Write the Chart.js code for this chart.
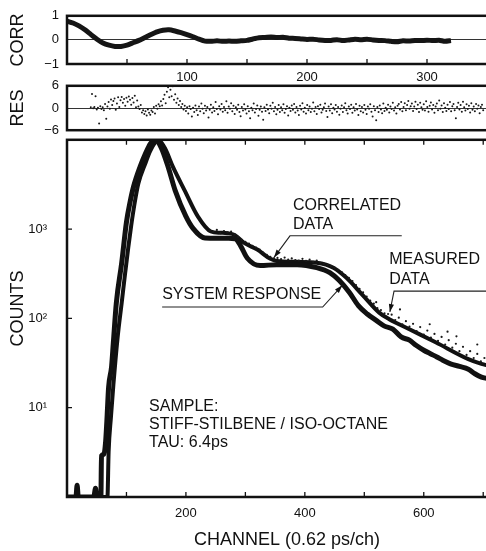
<!DOCTYPE html>
<html>
<head>
<meta charset="utf-8">
<script src="https://cdn.jsdelivr.net/npm/chart.js@4.4.1/dist/chart.umd.min.js"></script>
<style>
  body { margin:0; background:#fff; overflow:hidden; width:486px; height:551px; position:relative; }
  canvas { position:absolute; left:0; }
  #corrChart { top:0; }
  #resChart { top:70px; }
  #countChart { top:120px; }
</style>
</head>
<body>
<canvas id="corrChart" width="511" height="90"></canvas>
<canvas id="resChart" width="511" height="76"></canvas>
<canvas id="countChart" width="511" height="431"></canvas>
<script>
// ---- data ----
// correlation of residuals, channel 0..320 every 5
var corrStart = 0, corrStep = 5;
var corrValues = [0.78, 0.7, 0.58, 0.42, 0.22, 0.03, -0.13, -0.22, -0.27, -0.27,
  -0.22, -0.12, -0.02, 0.1, 0.22, 0.33, 0.4, 0.42, 0.37, 0.3,
  0.22, 0.13, 0.03, -0.05, -0.06, -0.04, -0.06, -0.05, -0.06, -0.04,
  -0.02, 0.04, 0.09, 0.1, 0.12, 0.1, 0.11, 0.07, 0.06, 0.04,
  0.02, 0.03, 0.0, -0.02, -0.02, 0.01, -0.03, 0.0, 0.03, 0.01,
  0.03, 0.0, -0.02, -0.03, -0.06, -0.08, -0.04, -0.05, -0.02, -0.03,
  -0.01, -0.03, -0.01, -0.06, -0.03];

// weighted residuals, channel 20..350 every 1
var resStart = 20;
var resValues = [
  0.2, 3.8, -0.1, 0.3, 3.2, -0.4, 0.1, -4.2, 0.5, -0.3,
  0.2, -0.6, 1.1, -2.9, 0.4, 1.6, -0.2, 2.3, 0.8, 1.9,
  2.6, -0.5, 1.2, 2.9, 0.3, 2.1, 3.0, 1.4, 2.4, 0.6,
  2.8, 1.7, 3.1, 2.2, 0.9, 2.7, 1.5, 3.3, 0.2, 2.0,
  0.4, -0.3, 0.8, -1.2, -0.6, -1.6, -0.9, -2.0, -0.4, -1.3,
  -1.8, -0.7, -1.1, 0.3, -1.5, 0.6, -0.2, 1.0, 0.5, 1.8,
  0.7, 2.4, 3.6, 1.3, 4.4, 5.6, 2.9, 4.9, 3.2, 5.9,
  2.2, 3.7, 1.4, 2.6, 0.8, 1.9, 0.3, 1.1, -0.4, 0.6,
  -0.8, 0.2, -1.5, 0.5, -0.3, -2.3, 0.1, -1.1, 0.7, -0.6,
  -1.9, 0.4, -0.9, 1.2, -0.2, -1.4, 0.6, -0.7, 0.3, -2.6,
  -0.5, 0.9, -1.2, 0.2, -0.8, 1.6, -0.3, -1.7, 0.5, -0.4,
  1.1, -1.0, 0.3, -0.6, 1.8, -1.3, 0.4, -0.2, 1.3, -0.9,
  0.6, -1.6, 0.2, -0.5, 0.9, -1.1, -2.2, 0.3, -0.7, 1.0,
  -0.4, -1.5, 0.5, -0.9, -2.8, 0.1, -0.6, 1.2, -1.2, -0.3,
  0.7, -2.1, -0.5, 0.4, -1.0, -3.2, 0.2, -0.8, 0.9, -0.4,
  -1.4, 0.6, -0.2, 1.4, -0.9, 0.3, -1.7, -0.5, 0.8, -1.1,
  0.2, -0.6, 1.0, -1.3, -0.3, 0.5, -2.0, 0.1, -0.8, 0.7,
  -0.5, 1.1, -1.2, 0.3, -0.7, -1.9, 0.6, -0.4, 1.3, -1.0,
  0.1, -1.5, 0.8, -0.6, 0.4, -1.1, -0.2, 1.5, -0.9, 0.3,
  -1.6, 0.5, -0.3, 0.9, -1.2, -0.5, 0.2, 1.2, -0.8, -2.4,
  0.4, -0.7, 1.0, -1.4, 0.1, -0.4, 0.8, -1.0, 0.3, -1.8,
  -0.2, 0.7, -1.1, 0.2, 1.3, -0.6, -1.5, 0.4, -0.3, 0.9,
  -1.3, 0.2, -0.7, 1.1, -0.4, -1.9, 0.6, -0.9, 0.3, -1.2,
  0.8, -0.5, -1.6, 0.4, -0.2, 1.0, -1.0, -2.3, 0.5, -0.6,
  -3.3, 0.3, -1.1, 0.7, -0.4, -1.4, 1.2, -0.8, 0.1, -0.5,
  0.9, -1.2, 0.4, -0.3, 1.4, -0.7, 0.2, -1.5, 0.6, 1.1,
  -0.4, 1.6, -0.9, 0.3, 1.3, -0.6, 0.8, 1.9, -0.2, 0.5,
  1.2, -0.8, 0.4, 1.7, -0.3, 0.9, -1.1, 1.4, 0.2, -0.5,
  1.0, -0.7, 1.8, 0.3, -1.0, 0.6, 1.5, -0.4, 0.8, -1.3,
  0.4, 1.2, -0.6, 2.0, -0.2, 0.7, -1.1, 1.3, 0.1, -0.8,
  0.9, -0.3, 1.6, -0.9, 0.5, 1.1, -0.6, -2.8, 0.3, 1.4,
  -0.4, 0.8, -1.0, 1.7, 0.2, -0.7, 1.0, -0.3, 0.6, -1.2,
  1.3, -0.5, 0.4, -0.9, 1.1, -0.2, 0.7, -1.4, 0.3, 0.9, -0.6];

// system response (instrument function)
var srChannels = [0, 15, 17, 19, 45, 48, 50, 57, 58, 62, 65, 67, 70, 75, 78, 83, 92, 100, 106, 112,
  123, 132, 140, 148, 158, 170, 182, 200, 212, 232, 253, 272, 283, 292, 303, 325, 353, 387, 420, 442,
  458, 475, 490, 505, 520, 534, 548, 562, 576, 587, 600, 612, 622, 632, 645, 660, 675, 686, 697, 710, 725];
var srCounts = [1, 1, 1.35, 1, 1, 1.25, 1, 1, 2.9, 3.0, 4.2, 7, 17, 29, 54, 150, 420, 1200, 2000, 3000,
  5000, 7000, 9000, 10000, 8300, 5000, 2700, 1390, 1020, 795, 790, 790, 780, 650, 475, 390, 400, 400, 370, 325,
  265, 195, 139, 112, 95, 82, 76, 62, 57, 50, 44, 40, 37, 34, 31, 29, 27, 24, 22, 21, 19];

// correlated (convolved) data
var cdChannels = [0, 68, 70, 74, 78, 85, 92, 98, 103, 108, 114, 120, 132, 140, 148, 153, 165, 178, 198, 220,
  242, 258, 270, 282, 298, 320, 342, 353, 387, 420, 448, 470, 498, 525, 542, 575, 620, 675, 697, 725];
var cdCounts = [1, 1, 3.2, 8, 18, 60, 150, 330, 620, 1100, 2000, 3240, 5500, 7500, 9300, 10000, 8000, 5000, 2700, 1390,
  940, 910, 900, 860, 700, 590, 465, 440, 430, 420, 370, 285, 180, 116, 98, 76, 54, 35, 31, 28];

// measured data points (tail, where visible)
var measChannels = [240, 246, 252, 258, 264, 270, 276, 282, 288, 294, 300, 306, 312, 318, 324, 330, 336, 342, 348, 354,
  360, 366, 372, 378, 384, 390, 396, 402, 408, 414, 420, 426, 432, 438, 444, 450, 456, 462, 468, 474,
  480, 486, 492, 498, 504, 510, 516, 522, 528, 534, 540, 546, 552, 558, 564, 570, 576, 582, 588, 594,
  600, 606, 612, 618, 624, 630, 636, 642, 648, 654, 660, 666, 672, 678, 684, 690, 696, 702, 708, 714,
  720, 520, 560, 610, 655, 690, 640];
var measCounts = [960, 930, 980, 900, 950, 920, 940, 870, 820, 760, 720, 690, 650, 620, 590, 545, 515, 490, 470, 475,
  460, 480, 455, 470, 450, 445, 465, 440, 455, 430, 445, 420, 410, 400, 385, 370, 350, 330, 305, 285,
  262, 236, 214, 196, 176, 158, 146, 130, 124, 114, 112, 110, 96, 102, 86, 93, 81, 87, 72, 80,
  66, 73, 61, 67, 56, 62, 51, 57, 47, 52, 43, 48, 39, 43, 36, 40, 33, 36, 31, 33,
  29, 152, 126, 86, 63, 51, 71];

var topTicks = [50, 100, 150, 200, 250, 300, 350];
var mainTicks = [100, 200, 300, 400, 500, 600, 700];
var countTicks = [10, 100, 1000];

Chart.defaults.font.family = '"Liberation Sans", Arial, Helvetica, sans-serif';
Chart.defaults.color = '#111';
Chart.defaults.animation = false;

function pts(xs, ys) { return xs.map(function (x, i) { return {x: x, y: ys[i]}; }); }
function minus(v) { return v < 0 ? '\u2212' + Math.abs(v) : '' + v; }

// border box + inward tick marks
var framePlugin = {
  id: 'frame',
  afterDraw: function (chart, args, opts) {
    var ctx = chart.ctx, a = chart.chartArea, sx = chart.scales.x, sy = chart.scales.y;
    var len = 5;
    ctx.save();
    ctx.strokeStyle = '#111';
    ctx.lineWidth = 1.3;
    ctx.beginPath();
    (opts.xTicks || []).forEach(function (v) {
      var x = sx.getPixelForValue(v);
      if (opts.top) { ctx.moveTo(x, a.top); ctx.lineTo(x, a.top + len); }
      if (opts.bottom) { ctx.moveTo(x, a.bottom); ctx.lineTo(x, a.bottom - len); }
    });
    (opts.yTicks || []).forEach(function (v) {
      var y = sy.getPixelForValue(v);
      ctx.moveTo(a.left, y); ctx.lineTo(a.left + len, y);
    });
    ctx.stroke();
    ctx.lineWidth = 2.5;
    ctx.strokeRect(a.left, a.top, a.right - a.left, a.bottom - a.top);
    ctx.restore();
  }
};

// text labels with leader lines, anchored in data units
var notes = [
  {text: ['CORRELATED', 'DATA'], at: [380, 1810], gap: 19, path: [[563, 841], [375, 841], [348, 480]]},
  {text: ['MEASURED', 'DATA'], at: [542, 456], gap: 20, path: [[720, 202], [550, 202], [543, 118]]},
  {text: ['SYSTEM RESPONSE'], at: [160, 187], gap: 0, path: [[160, 134], [430, 134], [463, 235]]},
  {text: ['SAMPLE:', 'STIFF-STILBENE / ISO-OCTANE', 'TAU: 6.4ps'], at: [138, 10.2], gap: 18, path: []}
];

var notePlugin = {
  id: 'notes',
  afterDraw: function (chart) {
    var ctx = chart.ctx, sx = chart.scales.x, sy = chart.scales.y;
    ctx.save();
    ctx.fillStyle = '#111';
    ctx.strokeStyle = '#222';
    ctx.font = '16px "Liberation Sans", Arial, sans-serif';
    ctx.textAlign = 'left';
    ctx.textBaseline = 'middle';
    notes.forEach(function (n) {
      var x0 = sx.getPixelForValue(n.at[0]), y0 = sy.getPixelForValue(n.at[1]);
      n.text.forEach(function (t, i) { ctx.fillText(t, x0, y0 + i * n.gap); });
      if (!n.path.length) return;
      var p = n.path.map(function (q) { return [sx.getPixelForValue(q[0]), sy.getPixelForValue(q[1])]; });
      ctx.lineWidth = 1.1;
      ctx.beginPath();
      ctx.moveTo(p[0][0], p[0][1]);
      for (var k = 1; k < p.length; k++) ctx.lineTo(p[k][0], p[k][1]);
      ctx.stroke();
      // arrow head
      var tip = p[p.length - 1], prev = p[p.length - 2];
      var ang = Math.atan2(tip[1] - prev[1], tip[0] - prev[0]);
      ctx.beginPath();
      ctx.moveTo(tip[0], tip[1]);
      ctx.lineTo(tip[0] - 8 * Math.cos(ang) + 2.6 * Math.sin(ang), tip[1] - 8 * Math.sin(ang) - 2.6 * Math.cos(ang));
      ctx.lineTo(tip[0] - 8 * Math.cos(ang) - 2.6 * Math.sin(ang), tip[1] - 8 * Math.sin(ang) + 2.6 * Math.cos(ang));
      ctx.closePath();
      ctx.fill();
    });
    ctx.restore();
  }
};

var yTitleFont = {size: 18};
var tickFont = {size: 13};

// ---- CORR panel ----
new Chart('corrChart', {
  type: 'line',
  data: {
    datasets: [{
      data: corrValues.map(function (v, i) { return {x: corrStart + i * corrStep, y: v}; }),
      borderColor: '#151515', borderWidth: 5, pointRadius: 0, tension: 0.2
    }]
  },
  options: {
    responsive: false,
    layout: {padding: {top: 13, right: 0, left: 0, bottom: 0}},
    plugins: {legend: {display: false}, tooltip: {enabled: false},
      frame: {xTicks: topTicks, bottom: true}},
    scales: {
      x: {type: 'linear', min: 0, max: 370,
        afterFit: function (s) { s.height = 26; },
        afterBuildTicks: function (s) { s.ticks = topTicks.map(function (v) { return {value: v}; }); },
        ticks: {font: tickFont, padding: -2, maxRotation: 0, autoSkip: false,
          callback: function (v) { return v % 100 === 0 ? v : ''; }},
        grid: {display: false}, border: {display: false}},
      y: {min: -1, max: 1,
        afterFit: function (s) { s.width = 67; },
        afterBuildTicks: function (s) { s.ticks = [-1, 0, 1].map(function (v) { return {value: v}; }); },
        ticks: {font: tickFont, padding: 8, callback: minus},
        grid: {drawTicks: false, lineWidth: 1, color: function (c) { return c.tick && c.tick.value === 0 ? '#333' : 'rgba(0,0,0,0)'; }},
        border: {display: false},
        title: {display: true, text: 'CORR', font: yTitleFont, padding: {top: 7, bottom: 0}}}
    }
  },
  plugins: [framePlugin]
});

// ---- RES panel ----
new Chart('resChart', {
  type: 'line',
  data: {
    datasets: [{
      data: resValues.map(function (v, i) { return {x: resStart + i, y: v}; }),
      showLine: false, pointRadius: 1, pointBorderWidth: 0, pointBackgroundColor: '#1a1a1a'
    }]
  },
  options: {
    responsive: false,
    layout: {padding: {top: 14, right: 0, left: 0, bottom: 10}},
    plugins: {legend: {display: false}, tooltip: {enabled: false}, frame: {}},
    scales: {
      x: {type: 'linear', min: 0, max: 370, display: false},
      y: {min: -6, max: 6,
        afterFit: function (s) { s.width = 67; },
        afterBuildTicks: function (s) { s.ticks = [-6, 0, 6].map(function (v) { return {value: v}; }); },
        ticks: {font: tickFont, padding: 8, callback: minus},
        grid: {drawTicks: false, lineWidth: 1, color: function (c) { return c.tick && c.tick.value === 0 ? '#333' : 'rgba(0,0,0,0)'; }},
        border: {display: false},
        title: {display: true, text: 'RES', font: yTitleFont, padding: {top: 7, bottom: 0}}}
    }
  },
  plugins: [framePlugin]
});

// ---- COUNTS panel ----
new Chart('countChart', {
  type: 'line',
  data: {
    datasets: [
      {label: 'MEASURED DATA', data: pts(measChannels, measCounts), showLine: false,
        pointRadius: 1.1, pointBorderWidth: 0, pointBackgroundColor: '#1a1a1a'},
      {label: 'SYSTEM RESPONSE', data: pts(srChannels, srCounts), borderColor: '#111', borderWidth: 5,
        pointRadius: 0, cubicInterpolationMode: 'monotone'},
      {label: 'CORRELATED DATA', data: pts(cdChannels, cdCounts), borderColor: '#111', borderWidth: 4,
        pointRadius: 0, cubicInterpolationMode: 'monotone'}
    ]
  },
  options: {
    responsive: false,
    layout: {padding: {top: 16, right: 0, left: 0, bottom: 0}},
    plugins: {legend: {display: false}, tooltip: {enabled: false},
      frame: {xTicks: mainTicks, top: true, bottom: true, yTicks: countTicks}},
    scales: {
      x: {type: 'linear', min: 0, max: 740,
        afterFit: function (s) { s.height = 54; },
        afterBuildTicks: function (s) { s.ticks = mainTicks.map(function (v) { return {value: v}; }); },
        ticks: {font: tickFont, padding: 1, maxRotation: 0, autoSkip: false,
          callback: function (v) { return v % 200 === 0 ? v : ''; }},
        grid: {display: false}, border: {display: false},
        title: {display: true, text: 'CHANNEL (0.62 ps/ch)', font: {size: 18}, padding: {top: 0, bottom: 0}}},
      y: {type: 'logarithmic', min: 1, max: 10000,
        afterFit: function (s) { s.width = 67; },
        afterBuildTicks: function (s) { s.ticks = countTicks.map(function (v) { return {value: v}; }); },
        ticks: {font: tickFont, padding: 12,
          callback: function (v) { return {10: '10\u00b9', 100: '10\u00b2', 1000: '10\u00b3'}[v] || ''; }},
        grid: {display: false}, border: {display: false},
        title: {display: true, text: '\u00a0\u00a0\u00a0\u00a0COUNTS', font: yTitleFont, padding: {top: 7, bottom: 0}}}
    }
  },
  plugins: [framePlugin, notePlugin]
});
</script>
</body>
</html>
